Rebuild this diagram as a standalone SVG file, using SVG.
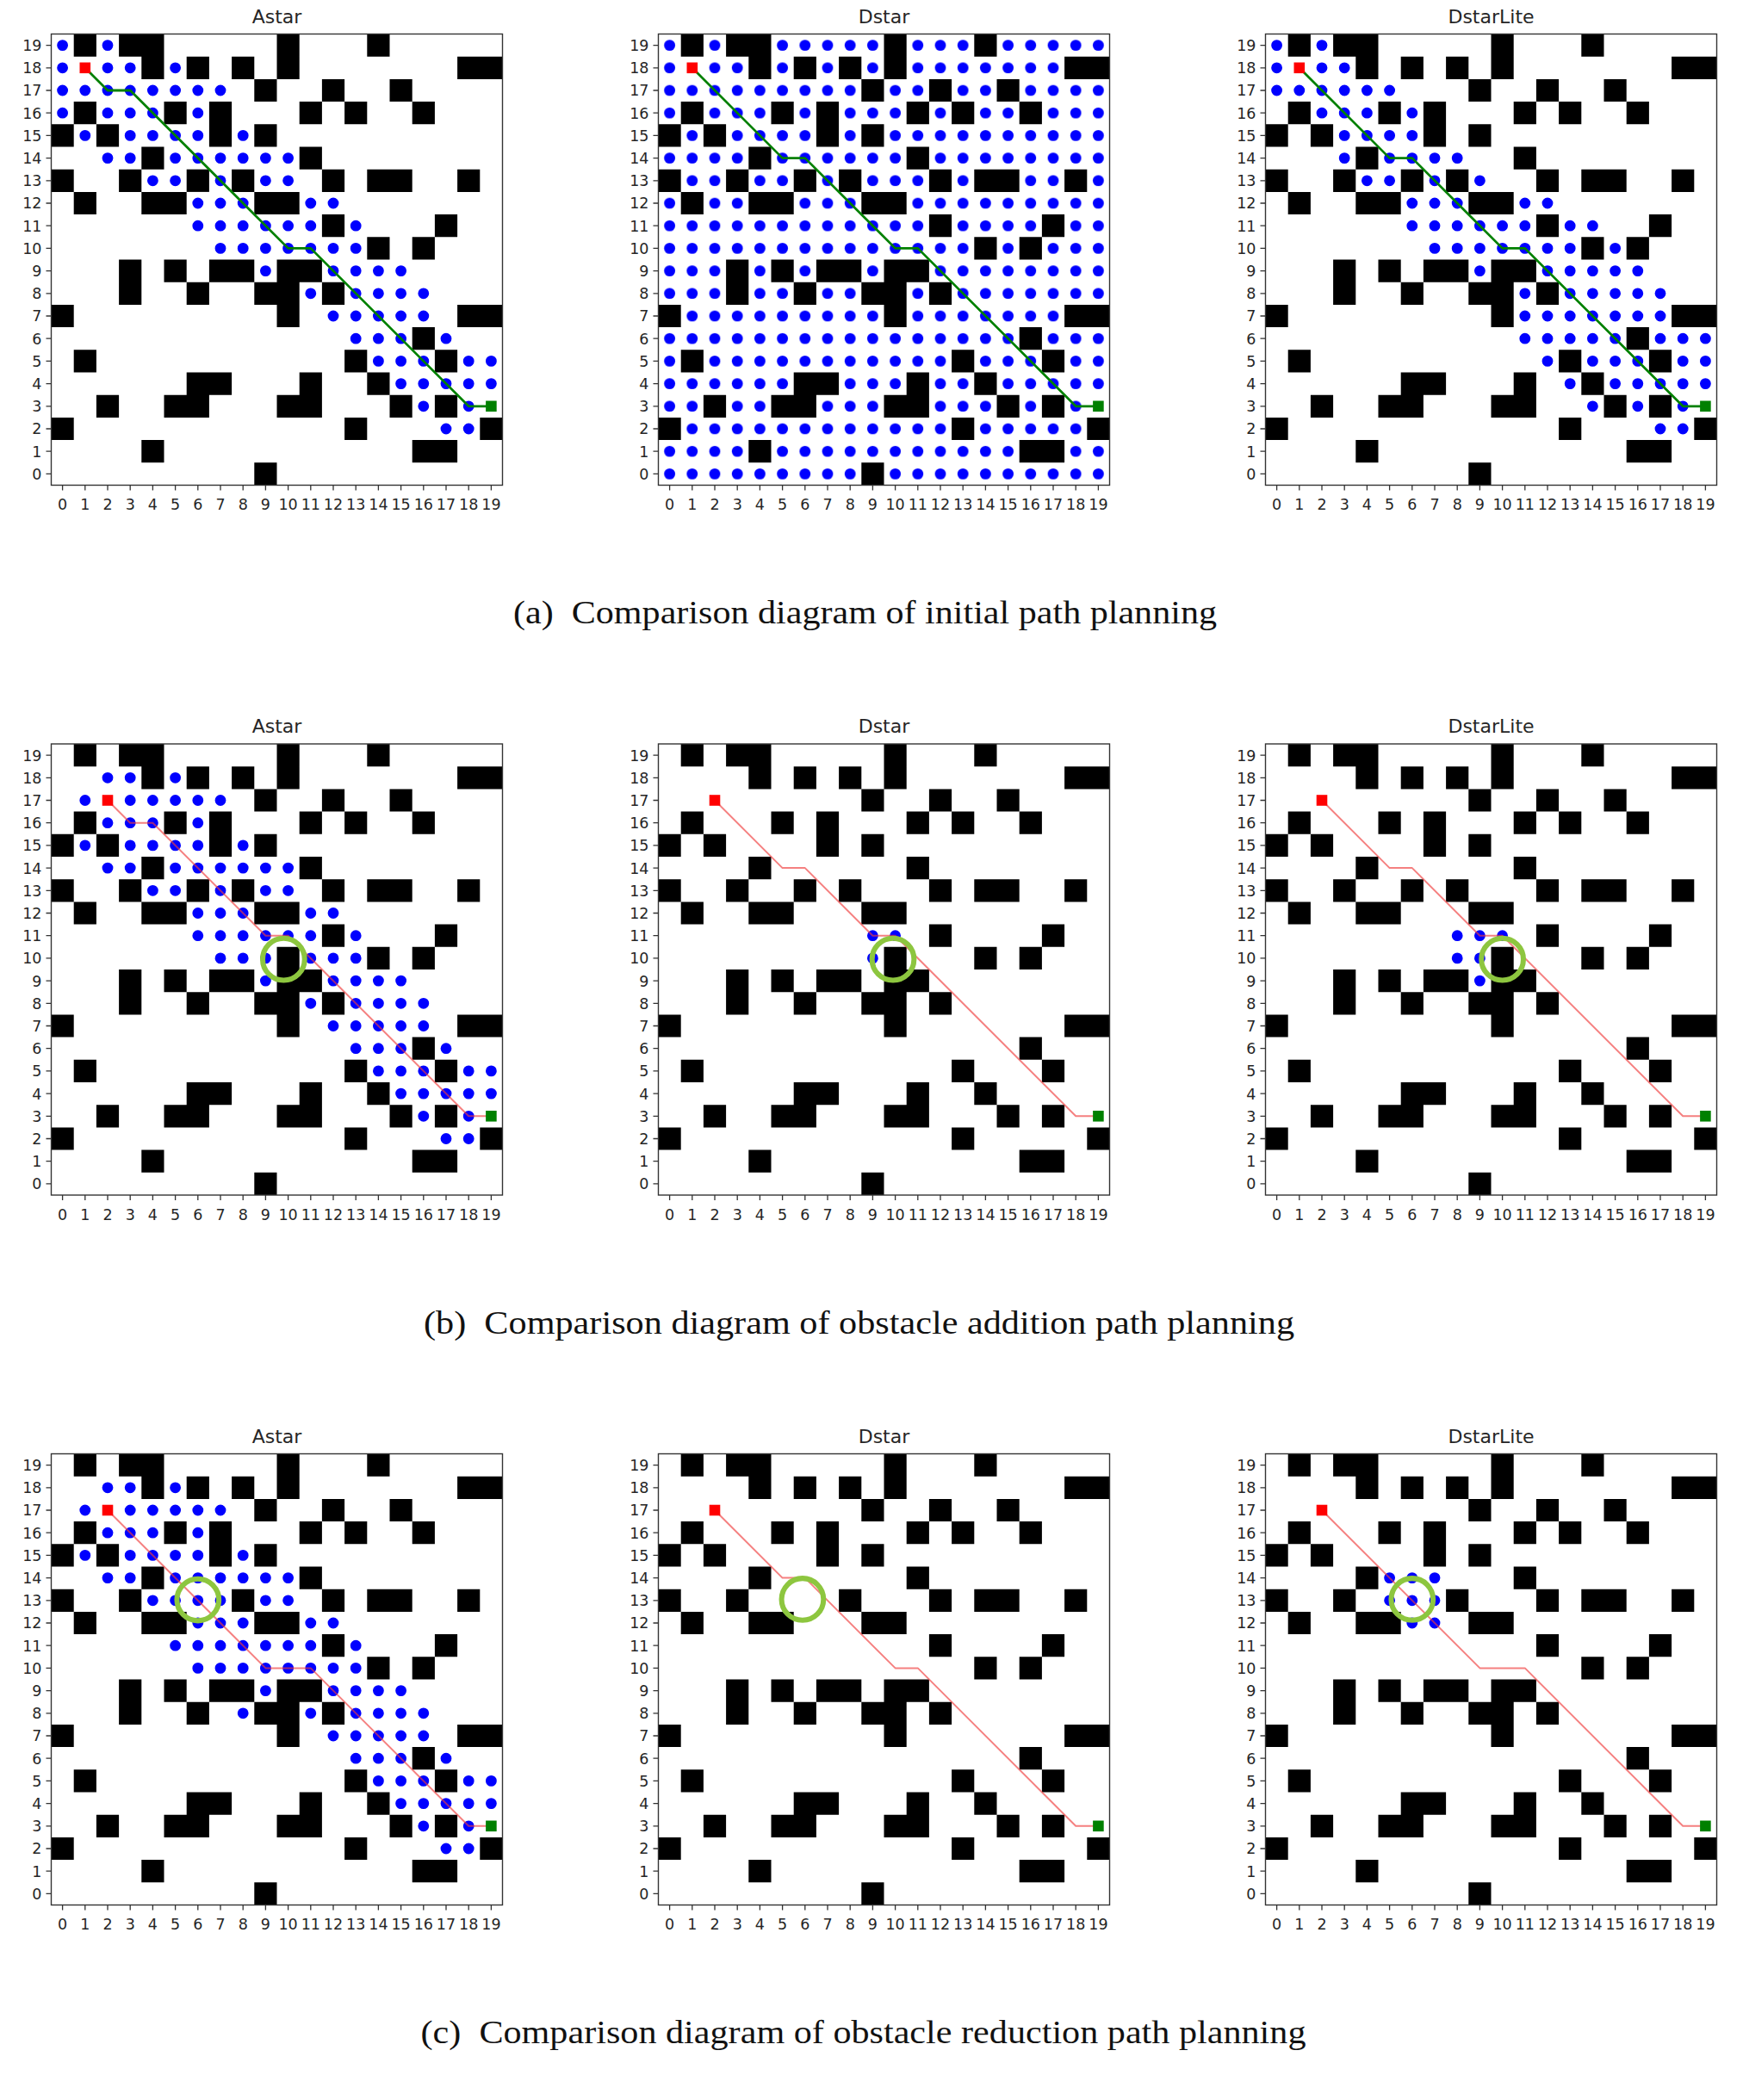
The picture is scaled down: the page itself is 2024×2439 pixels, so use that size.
<svg xmlns="http://www.w3.org/2000/svg" xmlns:xlink="http://www.w3.org/1999/xlink" width="2024" height="2439" viewBox="0 0 2024 2439">
<style>
.tk{font-family:"DejaVu Sans",sans-serif;font-size:17.5px;fill:#262626}
.xl{text-anchor:middle}
.yl{text-anchor:end}
.ti{font-family:"DejaVu Sans",sans-serif;font-size:22px;fill:#262626;text-anchor:middle}
.cap{font-family:"Liberation Serif","Times New Roman",serif;font-size:38px;fill:#111;white-space:pre}
.bg{fill:#fff}
.dots{fill:none;stroke:#0000ff;stroke-width:.49;stroke-linecap:round}
.obs{fill:#000}
.gp{fill:none;stroke:#008000;stroke-width:.105;stroke-linejoin:round}
.rp{fill:none;stroke:#f03c3c;stroke-opacity:.65;stroke-width:.075;stroke-linejoin:round}
.st{fill:#ff0000}
.gl{fill:#008000}
.ring{fill:none;stroke:#8dc63f;stroke-width:.23}
.frame{fill:none;stroke:#333;stroke-width:.053}
.tick{fill:none;stroke:#333;stroke-width:1.3}
</style>
<defs>
<pattern id="alldots" patternUnits="userSpaceOnUse" width="1" height="1"><circle cx=".5" cy=".5" r=".245" fill="#0000ff"/></pattern>
<path id="map0" class="obs" d="M1 0h1v1h-1zM3 0h2v1h-2zM10 0h1v1h-1zM14 0h1v1h-1zM4 1h1v1h-1zM6 1h1v1h-1zM8 1h1v1h-1zM10 1h1v1h-1zM18 1h2v1h-2zM9 2h1v1h-1zM12 2h1v1h-1zM15 2h1v1h-1zM1 3h1v1h-1zM5 3h1v1h-1zM7 3h1v1h-1zM11 3h1v1h-1zM13 3h1v1h-1zM16 3h1v1h-1zM0 4h1v1h-1zM2 4h1v1h-1zM7 4h1v1h-1zM9 4h1v1h-1zM4 5h1v1h-1zM11 5h1v1h-1zM0 6h1v1h-1zM3 6h1v1h-1zM8 6h1v1h-1zM12 6h1v1h-1zM14 6h2v1h-2zM18 6h1v1h-1zM1 7h1v1h-1zM4 7h2v1h-2zM9 7h2v1h-2zM12 8h1v1h-1zM17 8h1v1h-1zM14 9h1v1h-1zM16 9h1v1h-1zM3 10h1v1h-1zM5 10h1v1h-1zM7 10h2v1h-2zM10 10h2v1h-2zM3 11h1v1h-1zM6 11h1v1h-1zM9 11h2v1h-2zM12 11h1v1h-1zM0 12h1v1h-1zM10 12h1v1h-1zM18 12h2v1h-2zM16 13h1v1h-1zM1 14h1v1h-1zM13 14h1v1h-1zM17 14h1v1h-1zM6 15h2v1h-2zM11 15h1v1h-1zM14 15h1v1h-1zM2 16h1v1h-1zM5 16h2v1h-2zM10 16h2v1h-2zM15 16h1v1h-1zM17 16h1v1h-1zM0 17h1v1h-1zM13 17h1v1h-1zM19 17h1v1h-1zM4 18h1v1h-1zM16 18h2v1h-2zM9 19h1v1h-1z"/>
<g id="axes">
<path class="tick" d="M13.1 524v6M39.3 524v6M65.5 524v6M91.7 524v6M117.9 524v6M144.1 524v6M170.3 524v6M196.5 524v6M222.7 524v6M248.9 524v6M275.1 524v6M301.3 524v6M327.5 524v6M353.7 524v6M379.9 524v6M406.1 524v6M432.3 524v6M458.5 524v6M484.7 524v6M510.9 524v6"/>
<path class="tick" d="M0 13.1h-6M0 39.3h-6M0 65.5h-6M0 91.7h-6M0 117.9h-6M0 144.1h-6M0 170.3h-6M0 196.5h-6M0 222.7h-6M0 248.9h-6M0 275.1h-6M0 301.3h-6M0 327.5h-6M0 353.7h-6M0 379.9h-6M0 406.1h-6M0 432.3h-6M0 458.5h-6M0 484.7h-6M0 510.9h-6"/>
<text class="tk xl" y="552.5"><tspan x="13.1">0</tspan><tspan x="39.3">1</tspan><tspan x="65.5">2</tspan><tspan x="91.7">3</tspan><tspan x="117.9">4</tspan><tspan x="144.1">5</tspan><tspan x="170.3">6</tspan><tspan x="196.5">7</tspan><tspan x="222.7">8</tspan><tspan x="248.9">9</tspan><tspan x="275.1">10</tspan><tspan x="301.3">11</tspan><tspan x="327.5">12</tspan><tspan x="353.7">13</tspan><tspan x="379.9">14</tspan><tspan x="406.1">15</tspan><tspan x="432.3">16</tspan><tspan x="458.5">17</tspan><tspan x="484.7">18</tspan><tspan x="510.9">19</tspan></text>
<text class="tk yl"><tspan x="-11" y="19.5">19</tspan><tspan x="-11" y="45.7">18</tspan><tspan x="-11" y="71.9">17</tspan><tspan x="-11" y="98.1">16</tspan><tspan x="-11" y="124.3">15</tspan><tspan x="-11" y="150.5">14</tspan><tspan x="-11" y="176.7">13</tspan><tspan x="-11" y="202.9">12</tspan><tspan x="-11" y="229.1">11</tspan><tspan x="-11" y="255.3">10</tspan><tspan x="-11" y="281.5">9</tspan><tspan x="-11" y="307.7">8</tspan><tspan x="-11" y="333.9">7</tspan><tspan x="-11" y="360.1">6</tspan><tspan x="-11" y="386.3">5</tspan><tspan x="-11" y="412.5">4</tspan><tspan x="-11" y="438.7">3</tspan><tspan x="-11" y="464.9">2</tspan><tspan x="-11" y="491.1">1</tspan><tspan x="-11" y="517.3">0</tspan></text>
</g>
</defs>
<rect width="2024" height="2439" fill="#fff"/>

<!-- Row (a) -->
<g id="a-astar" transform="translate(59.5 39.5)">
<text class="ti" x="262" y="-13">Astar</text>
<g transform="scale(26.2)">
<rect class="bg" width="20" height="20"/>
<path class="dots" d="M.5 .5h0M2.5 .5h0M.5 1.5h0M2.5 1.5h0M3.5 1.5h0M5.5 1.5h0M.5 2.5h0M1.5 2.5h0M2.5 2.5h0M3.5 2.5h0M4.5 2.5h0M5.5 2.5h0M6.5 2.5h0M7.5 2.5h0M.5 3.5h0M2.5 3.5h0M3.5 3.5h0M4.5 3.5h0M6.5 3.5h0M1.5 4.5h0M3.5 4.5h0M4.5 4.5h0M5.5 4.5h0M6.5 4.5h0M8.5 4.5h0M2.5 5.5h0M3.5 5.5h0M5.5 5.5h0M6.5 5.5h0M7.5 5.5h0M8.5 5.5h0M9.5 5.5h0M10.5 5.5h0M4.5 6.5h0M5.5 6.5h0M7.5 6.5h0M9.5 6.5h0M10.5 6.5h0M6.5 7.5h0M7.5 7.5h0M8.5 7.5h0M11.5 7.5h0M12.5 7.5h0M6.5 8.5h0M7.5 8.5h0M8.5 8.5h0M9.5 8.5h0M10.5 8.5h0M11.5 8.5h0M13.5 8.5h0M7.5 9.5h0M8.5 9.5h0M9.5 9.5h0M10.5 9.5h0M11.5 9.5h0M12.5 9.5h0M13.5 9.5h0M9.5 10.5h0M12.5 10.5h0M13.5 10.5h0M14.5 10.5h0M15.5 10.5h0M11.5 11.5h0M13.5 11.5h0M14.5 11.5h0M15.5 11.5h0M16.5 11.5h0M12.5 12.5h0M13.5 12.5h0M14.5 12.5h0M15.5 12.5h0M16.5 12.5h0M13.5 13.5h0M14.5 13.5h0M15.5 13.5h0M17.5 13.5h0M14.5 14.5h0M15.5 14.5h0M16.5 14.5h0M18.5 14.5h0M19.5 14.5h0M15.5 15.5h0M16.5 15.5h0M17.5 15.5h0M18.5 15.5h0M19.5 15.5h0M16.5 16.5h0M18.5 16.5h0M17.5 17.5h0M18.5 17.5h0"/>
<use href="#map0"/><path class="obs" d="M6 6h1v1h-1z"/>
<path class="gp" d="M1.5 1.5L2.5 2.5H3.5L10.5 9.5H11.5L18.5 16.5H19.5"/>
<rect class="st" x="1.26" y="1.26" width=".48" height=".48"/>
<rect class="gl" x="19.26" y="16.26" width=".48" height=".48"/>
<rect class="frame" width="20" height="20"/>
</g>
<use href="#axes"/>
</g>

<g id="a-dstar" transform="translate(764.5 39.5)">
<text class="ti" x="262" y="-13">Dstar</text>
<g transform="scale(26.2)">
<rect class="bg" width="20" height="20"/>
<rect width="20" height="20" fill="url(#alldots)"/>
<path class="bg" d="M1 1h1v1h-1zM19 16h1v1h-1z"/>
<use href="#map0"/><path class="obs" d="M6 6h1v1h-1z"/>
<path class="gp" d="M1.5 1.5L5.5 5.5H6.5L10.5 9.5H11.5L18.5 16.5H19.5"/>
<rect class="st" x="1.26" y="1.26" width=".48" height=".48"/>
<rect class="gl" x="19.26" y="16.26" width=".48" height=".48"/>
<rect class="frame" width="20" height="20"/>
</g>
<use href="#axes"/>
</g>

<g id="a-dstarlite" transform="translate(1469.5 39.5)">
<text class="ti" x="262" y="-13">DstarLite</text>
<g transform="scale(26.2)">
<rect class="bg" width="20" height="20"/>
<path class="dots" d="M.5 .5h0M2.5 .5h0M.5 1.5h0M2.5 1.5h0M3.5 1.5h0M.5 2.5h0M1.5 2.5h0M2.5 2.5h0M3.5 2.5h0M4.5 2.5h0M5.5 2.5h0M2.5 3.5h0M3.5 3.5h0M4.5 3.5h0M6.5 3.5h0M3.5 4.5h0M4.5 4.5h0M5.5 4.5h0M6.5 4.5h0M3.5 5.5h0M5.5 5.5h0M6.5 5.5h0M7.5 5.5h0M8.5 5.5h0M4.5 6.5h0M5.5 6.5h0M7.5 6.5h0M9.5 6.5h0M6.5 7.5h0M7.5 7.5h0M8.5 7.5h0M11.5 7.5h0M12.5 7.5h0M6.5 8.5h0M7.5 8.5h0M8.5 8.5h0M9.5 8.5h0M10.5 8.5h0M11.5 8.5h0M13.5 8.5h0M14.5 8.5h0M7.5 9.5h0M8.5 9.5h0M9.5 9.5h0M10.5 9.5h0M11.5 9.5h0M12.5 9.5h0M13.5 9.5h0M15.5 9.5h0M9.5 10.5h0M12.5 10.5h0M13.5 10.5h0M14.5 10.5h0M15.5 10.5h0M16.5 10.5h0M11.5 11.5h0M13.5 11.5h0M14.5 11.5h0M15.5 11.5h0M16.5 11.5h0M17.5 11.5h0M11.5 12.5h0M12.5 12.5h0M13.5 12.5h0M14.5 12.5h0M15.5 12.5h0M16.5 12.5h0M17.5 12.5h0M11.5 13.5h0M12.5 13.5h0M13.5 13.5h0M14.5 13.5h0M15.5 13.5h0M17.5 13.5h0M18.5 13.5h0M19.5 13.5h0M12.5 14.5h0M14.5 14.5h0M15.5 14.5h0M16.5 14.5h0M18.5 14.5h0M19.5 14.5h0M13.5 15.5h0M15.5 15.5h0M16.5 15.5h0M17.5 15.5h0M18.5 15.5h0M19.5 15.5h0M14.5 16.5h0M16.5 16.5h0M18.5 16.5h0M17.5 17.5h0M18.5 17.5h0"/>
<use href="#map0"/><path class="obs" d="M6 6h1v1h-1z"/>
<path class="gp" d="M1.5 1.5L5.5 5.5H6.5L10.5 9.5H11.5L18.5 16.5H19.5"/>
<rect class="st" x="1.26" y="1.26" width=".48" height=".48"/>
<rect class="gl" x="19.26" y="16.26" width=".48" height=".48"/>
<rect class="frame" width="20" height="20"/>
</g>
<use href="#axes"/>
</g>

<text id="caption-a" class="cap" x="596" y="724" textLength="817" lengthAdjust="spacingAndGlyphs">(a)  Comparison diagram of initial path planning</text>

<!-- Row (b) -->
<g id="b-astar" transform="translate(59.5 864)">
<text class="ti" x="262" y="-13">Astar</text>
<g transform="scale(26.2)">
<rect class="bg" width="20" height="20"/>
<path class="dots" d="M2.5 1.5h0M3.5 1.5h0M5.5 1.5h0M1.5 2.5h0M3.5 2.5h0M4.5 2.5h0M5.5 2.5h0M6.5 2.5h0M7.5 2.5h0M2.5 3.5h0M3.5 3.5h0M4.5 3.5h0M6.5 3.5h0M1.5 4.5h0M3.5 4.5h0M4.5 4.5h0M5.5 4.5h0M6.5 4.5h0M8.5 4.5h0M2.5 5.5h0M3.5 5.5h0M5.5 5.5h0M6.5 5.5h0M7.5 5.5h0M8.5 5.5h0M9.5 5.5h0M10.5 5.5h0M4.5 6.5h0M5.5 6.5h0M7.5 6.5h0M9.5 6.5h0M10.5 6.5h0M6.5 7.5h0M7.5 7.5h0M8.5 7.5h0M11.5 7.5h0M12.5 7.5h0M6.5 8.5h0M7.5 8.5h0M8.5 8.5h0M9.5 8.5h0M10.5 8.5h0M11.5 8.5h0M13.5 8.5h0M7.5 9.5h0M8.5 9.5h0M9.5 9.5h0M11.5 9.5h0M12.5 9.5h0M13.5 9.5h0M9.5 10.5h0M12.5 10.5h0M13.5 10.5h0M14.5 10.5h0M15.5 10.5h0M11.5 11.5h0M13.5 11.5h0M14.5 11.5h0M15.5 11.5h0M16.5 11.5h0M12.5 12.5h0M13.5 12.5h0M14.5 12.5h0M15.5 12.5h0M16.5 12.5h0M13.5 13.5h0M14.5 13.5h0M15.5 13.5h0M17.5 13.5h0M14.5 14.5h0M15.5 14.5h0M16.5 14.5h0M18.5 14.5h0M19.5 14.5h0M15.5 15.5h0M16.5 15.5h0M17.5 15.5h0M18.5 15.5h0M19.5 15.5h0M16.5 16.5h0M18.5 16.5h0M17.5 17.5h0M18.5 17.5h0"/>
<use href="#map0"/><path class="obs" d="M6 6h1v1h-1zM10 9h1v1h-1z"/>
<path class="rp" d="M2.5 2.5L3.5 3.5H4.5L9.5 8.5H10.5L18.5 16.5H19.5"/>
<rect class="st" x="2.26" y="2.26" width=".48" height=".48"/>
<rect class="gl" x="19.26" y="16.26" width=".48" height=".48"/>
<circle class="ring" cx="10.3" cy="9.55" r=".93"/>
<rect class="frame" width="20" height="20"/>
</g>
<use href="#axes"/>
</g>

<g id="b-dstar" transform="translate(764.5 864)">
<text class="ti" x="262" y="-13">Dstar</text>
<g transform="scale(26.2)">
<rect class="bg" width="20" height="20"/>
<path class="dots" d="M9.5 8.5h0M10.5 8.5h0M9.5 9.5h0"/>
<use href="#map0"/><path class="obs" d="M6 6h1v1h-1zM10 9h1v1h-1z"/>
<path class="rp" d="M2.5 2.5L5.5 5.5H6.5L9.5 8.5H10.5L18.5 16.5H19.5"/>
<rect class="st" x="2.26" y="2.26" width=".48" height=".48"/>
<rect class="gl" x="19.26" y="16.26" width=".48" height=".48"/>
<circle class="ring" cx="10.4" cy="9.55" r=".93"/>
<rect class="frame" width="20" height="20"/>
</g>
<use href="#axes"/>
</g>

<g id="b-dstarlite" transform="translate(1469.5 864)">
<text class="ti" x="262" y="-13">DstarLite</text>
<g transform="scale(26.2)">
<rect class="bg" width="20" height="20"/>
<path class="dots" d="M8.5 8.5h0M9.5 8.5h0M10.5 8.5h0M8.5 9.5h0M9.5 9.5h0M9.5 10.5h0"/>
<use href="#map0"/><path class="obs" d="M6 6h1v1h-1zM10 9h1v1h-1z"/>
<path class="rp" d="M2.5 2.5L5.5 5.5H6.5L9.5 8.5H10.5L18.5 16.5H19.5"/>
<rect class="st" x="2.26" y="2.26" width=".48" height=".48"/>
<rect class="gl" x="19.26" y="16.26" width=".48" height=".48"/>
<circle class="ring" cx="10.5" cy="9.55" r=".93"/>
<rect class="frame" width="20" height="20"/>
</g>
<use href="#axes"/>
</g>

<text id="caption-b" class="cap" x="492" y="1548.5" textLength="1011" lengthAdjust="spacingAndGlyphs">(b)  Comparison diagram of obstacle addition path planning</text>

<!-- Row (c) -->
<g id="c-astar" transform="translate(59.5 1688.5)">
<text class="ti" x="262" y="-13">Astar</text>
<g transform="scale(26.2)">
<rect class="bg" width="20" height="20"/>
<path class="dots" d="M2.5 1.5h0M3.5 1.5h0M5.5 1.5h0M1.5 2.5h0M3.5 2.5h0M4.5 2.5h0M5.5 2.5h0M6.5 2.5h0M7.5 2.5h0M2.5 3.5h0M3.5 3.5h0M4.5 3.5h0M6.5 3.5h0M1.5 4.5h0M3.5 4.5h0M4.5 4.5h0M5.5 4.5h0M6.5 4.5h0M8.5 4.5h0M2.5 5.5h0M3.5 5.5h0M5.5 5.5h0M6.5 5.5h0M7.5 5.5h0M8.5 5.5h0M9.5 5.5h0M10.5 5.5h0M4.5 6.5h0M5.5 6.5h0M6.5 6.5h0M7.5 6.5h0M9.5 6.5h0M10.5 6.5h0M6.5 7.5h0M7.5 7.5h0M8.5 7.5h0M11.5 7.5h0M12.5 7.5h0M5.5 8.5h0M6.5 8.5h0M7.5 8.5h0M8.5 8.5h0M9.5 8.5h0M10.5 8.5h0M11.5 8.5h0M13.5 8.5h0M6.5 9.5h0M7.5 9.5h0M8.5 9.5h0M9.5 9.5h0M10.5 9.5h0M11.5 9.5h0M12.5 9.5h0M13.5 9.5h0M9.5 10.5h0M12.5 10.5h0M13.5 10.5h0M14.5 10.5h0M15.5 10.5h0M8.5 11.5h0M11.5 11.5h0M13.5 11.5h0M14.5 11.5h0M15.5 11.5h0M16.5 11.5h0M12.5 12.5h0M13.5 12.5h0M14.5 12.5h0M15.5 12.5h0M16.5 12.5h0M13.5 13.5h0M14.5 13.5h0M15.5 13.5h0M17.5 13.5h0M14.5 14.5h0M15.5 14.5h0M16.5 14.5h0M18.5 14.5h0M19.5 14.5h0M15.5 15.5h0M16.5 15.5h0M17.5 15.5h0M18.5 15.5h0M19.5 15.5h0M16.5 16.5h0M18.5 16.5h0M17.5 17.5h0M18.5 17.5h0"/>
<use href="#map0"/>
<path class="rp" d="M2.5 2.5L9.5 9.5H11.5L18.5 16.5H19.5"/>
<rect class="st" x="2.26" y="2.26" width=".48" height=".48"/>
<rect class="gl" x="19.26" y="16.26" width=".48" height=".48"/>
<circle class="ring" cx="6.5" cy="6.47" r=".93"/>
<rect class="frame" width="20" height="20"/>
</g>
<use href="#axes"/>
</g>

<g id="c-dstar" transform="translate(764.5 1688.5)">
<text class="ti" x="262" y="-13">Dstar</text>
<g transform="scale(26.2)">
<rect class="bg" width="20" height="20"/>
<use href="#map0"/>
<path class="rp" d="M2.5 2.5L5.5 5.5H6.5L10.5 9.5H11.5L18.5 16.5H19.5"/>
<rect class="st" x="2.26" y="2.26" width=".48" height=".48"/>
<rect class="gl" x="19.26" y="16.26" width=".48" height=".48"/>
<circle class="ring" cx="6.39" cy="6.45" r=".93"/>
<rect class="frame" width="20" height="20"/>
</g>
<use href="#axes"/>
</g>

<g id="c-dstarlite" transform="translate(1469.5 1688.5)">
<text class="ti" x="262" y="-13">DstarLite</text>
<g transform="scale(26.2)">
<rect class="bg" width="20" height="20"/>
<path class="dots" d="M5.5 5.5h0M6.5 5.5h0M7.5 5.5h0M5.5 6.5h0M6.5 6.5h0M7.5 6.5h0M6.5 7.5h0M7.5 7.5h0"/>
<use href="#map0"/>
<path class="rp" d="M2.5 2.5L9.5 9.5H11.5L18.5 16.5H19.5"/>
<rect class="st" x="2.26" y="2.26" width=".48" height=".48"/>
<rect class="gl" x="19.26" y="16.26" width=".48" height=".48"/>
<circle class="ring" cx="6.5" cy="6.45" r=".93"/>
<rect class="frame" width="20" height="20"/>
</g>
<use href="#axes"/>
</g>

<text id="caption-c" class="cap" x="488.5" y="2373" textLength="1028" lengthAdjust="spacingAndGlyphs">(c)  Comparison diagram of obstacle reduction path planning</text>
</svg>
